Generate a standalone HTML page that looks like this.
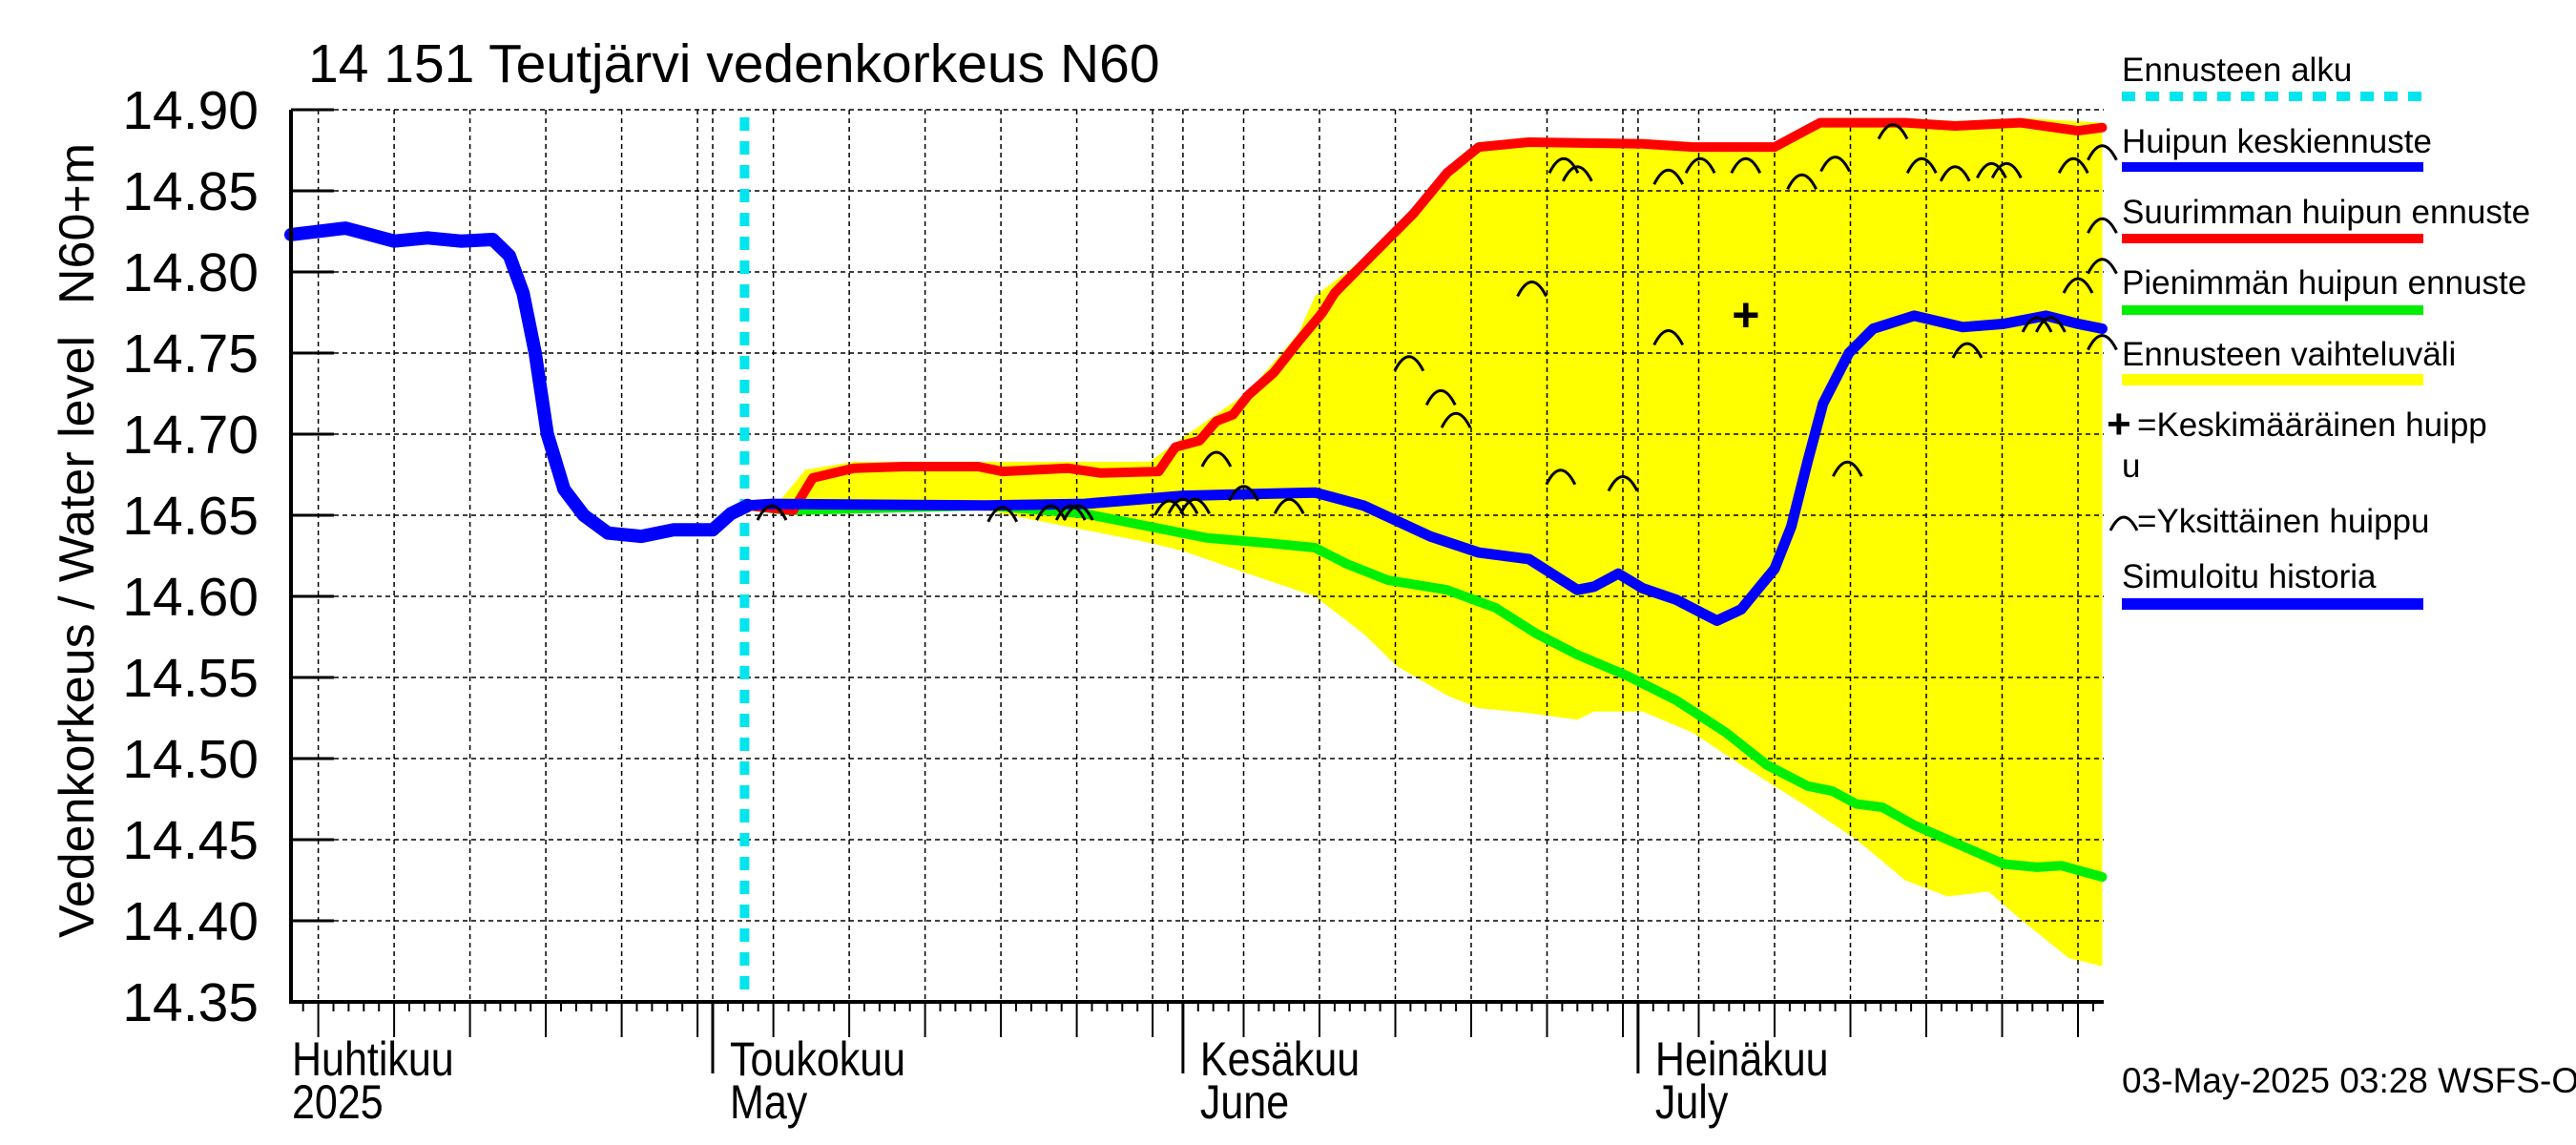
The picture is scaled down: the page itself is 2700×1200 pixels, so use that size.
<!DOCTYPE html>
<html><head><meta charset="utf-8">
<style>
body{margin:0;background:#fff}
svg{display:block;font-family:"Liberation Sans",sans-serif}
</style></head>
<body>
<svg id="chart" width="2700" height="1200" viewBox="0 0 2700 1200" xmlns="http://www.w3.org/2000/svg">
<rect width="2700" height="1200" fill="#fff"/>
<g id="band"></g>
<g id="grid"></g>
<g id="series"></g>
<g id="axes"></g>
<text x="323" y="86" font-size="57">14 151 Teutjärvi vedenkorkeus N60</text>
<text transform="translate(98,983) rotate(-90)" font-size="52">Vedenkorkeus / Water level</text>
<text transform="translate(98,319) rotate(-90)" font-size="52">N60+m</text>
<text x="2224" y="1145" font-size="37">03-May-2025 03:28 WSFS-O</text>
<g id="legend" font-size="35">
<g><text x="2224" y="85">Ennusteen alku</text><line x1="2224" y1="101" x2="2540" y2="101" stroke="#00e5ee" stroke-width="10" stroke-dasharray="14,11"/></g>
<g><text x="2224" y="160">Huipun keskiennuste</text><line x1="2224" y1="175" x2="2540" y2="175" stroke="#0000ff" stroke-width="10"/></g>
<g><text x="2224" y="234">Suurimman huipun ennuste</text><line x1="2224" y1="250" x2="2540" y2="250" stroke="#ff0000" stroke-width="10"/></g>
<g><text x="2224" y="308">Pienimmän huipun ennuste</text><line x1="2224" y1="325" x2="2540" y2="325" stroke="#00ee00" stroke-width="10"/></g>
<g><text x="2224" y="383">Ennusteen vaihteluväli</text><line x1="2224" y1="398" x2="2540" y2="398" stroke="#ffff00" stroke-width="12"/></g>
<g><text x="2208" y="459" font-weight="bold" font-size="44">+</text><text x="2240" y="457">=Keskimääräinen huipp</text><text x="2224" y="500">u</text></g>
<g><path d="M2212,556 Q2226,528 2240,556" fill="none" stroke="#000" stroke-width="3"/><text x="2240" y="558">=Yksittäinen huippu</text></g>
<g><text x="2224" y="616">Simuloitu historia</text><line x1="2224" y1="633" x2="2540" y2="633" stroke="#0000ff" stroke-width="12"/></g>
</g>
</svg>
<script>
// days are relative to 2025-05-01
const histDays=[-27.8,-24.2,-21,-18.8,-16.6,-14.5,-13.4,-12.5,-11.7,-10.9,-9.8,-8.5,-6.9,-4.7,-2.6,0,1.2,2.3];
const histVals=[14.823,14.827,14.819,14.821,14.819,14.820,14.81,14.787,14.75,14.70,14.666,14.65,14.639,14.637,14.641,14.641,14.651,14.656];
const meanDays=[2.3,3.9,18.0,24.5,31.0,35.3,39.7,42.9,47.3,50.5,53.8,57.0,58.1,59.7,61.3,63.5,66.2,67.8,70.0,71.1,72.2,73.2,74.9,76.5,79.2,82.4,85.1,87.9,90.0,91.6];
const meanVals=[14.656,14.657,14.656,14.657,14.662,14.663,14.664,14.656,14.637,14.627,14.623,14.604,14.606,14.614,14.605,14.598,14.585,14.592,14.617,14.643,14.684,14.719,14.75,14.765,14.773,14.766,14.768,14.773,14.768,14.765];
const maxDays=[2.3,5.3,6.6,9.3,12.6,17.5,19.1,23.4,25.6,29.4,30.5,32.1,33.2,34.3,35.3,37.0,38.6,40.2,41.0,42.9,46.2,48.4,50.5,53.8,61.3,64.6,70.0,73.0,78.6,81.9,86.2,90.0,91.6];
const maxVals=[14.656,14.653,14.673,14.679,14.68,14.68,14.677,14.679,14.676,14.677,14.692,14.696,14.708,14.712,14.724,14.738,14.757,14.775,14.787,14.805,14.836,14.861,14.877,14.88,14.879,14.877,14.877,14.892,14.892,14.89,14.892,14.887,14.889];
const minDays=[2.3,5.0,18.0,24.5,28.8,32.6,36.4,39.7,41.8,44.5,48.4,51.6,54.3,57.0,60.3,63.5,66.8,69.5,72.2,73.8,75.4,77.1,79.2,82.4,85.1,87.3,88.9,91.6];
const minVals=[14.656,14.653,14.656,14.651,14.643,14.636,14.633,14.63,14.62,14.61,14.604,14.593,14.577,14.564,14.551,14.536,14.516,14.496,14.483,14.48,14.472,14.47,14.459,14.446,14.435,14.433,14.434,14.427];
const bandUpDays=[3.9,6.1,9.3,16.9,28.8,31.0,35.3,38.6,39.7,42.9,46.2,48.4,50.5,53.8,61.3,64.6,70.0,73.0,78.6,81.9,86.2,91.6];
const bandUpVals=[14.653,14.678,14.683,14.683,14.683,14.698,14.726,14.762,14.785,14.808,14.839,14.864,14.88,14.883,14.882,14.88,14.88,14.895,14.895,14.893,14.895,14.892];
const bandLoDays=[3.9,18.0,23.4,28.8,31.0,35.3,39.7,42.9,45.1,48.4,50.5,53.8,57.0,58.1,61.3,64.6,67.8,72.2,75.4,78.6,81.4,84.1,86.2,89.4,91.6];
const bandLoVals=[14.653,14.653,14.643,14.633,14.628,14.614,14.6,14.577,14.557,14.539,14.531,14.528,14.524,14.529,14.529,14.516,14.496,14.47,14.45,14.425,14.415,14.418,14.401,14.377,14.372];
const peakDays=[3.9,19.1,22.3,23.6,24.1,30.1,31.0,31.8,33.2,35.0,38.0,45.9,48.0,49.0,54.0,56.1,57.0,55.9,60.0,63.0,63.0,65.1,68.1,71.8,74.0,74.8,77.8,79.7,81.9,82.7,84.3,85.3,87.3,88.2,89.7,90.0,91.6,91.6,91.6,91.6];
const peakVals=[14.657,14.656,14.657,14.657,14.657,14.660,14.661,14.661,14.690,14.669,14.661,14.749,14.728,14.714,14.795,14.871,14.866,14.679,14.675,14.864,14.765,14.871,14.871,14.861,14.872,14.684,14.892,14.871,14.866,14.757,14.868,14.868,14.773,14.773,14.871,14.797,14.879,14.834,14.809,14.762];
const meanPeakDay=68.1, meanPeakVal=14.773;
const yTicks=[14.35,14.40,14.45,14.50,14.55,14.60,14.65,14.70,14.75,14.80,14.85,14.90];
const monthLabels=[["Huhtikuu","2025",-27.8],["Toukokuu","May",0],["Kesäkuu","June",31],["Heinäkuu","July",61]];
const forecastStart=2.1;

const NS="http://www.w3.org/2000/svg";
const X0=305,X1=2205,YT=115,YB=1050;
const xs=d=>747+d*15.9;
const ys=v=>YT+(14.90-v)/0.05*85;
function el(tag,attrs,parent){const e=document.createElementNS(NS,tag);for(const k in attrs)e.setAttribute(k,attrs[k]);parent.appendChild(e);return e;}
const grid=document.getElementById('grid'),axes=document.getElementById('axes'),series=document.getElementById('series'),band=document.getElementById('band');

let pts=bandUpDays.map((d,i)=>xs(d)+','+ys(bandUpVals[i]));
for(let i=bandLoDays.length-1;i>=0;i--)pts.push(xs(bandLoDays[i])+','+ys(bandLoVals[i]));
const bp=el('polygon',{points:pts.join(' '),fill:'#ffff00'},band);



yTicks.forEach(v=>{
  const y=ys(v);
  const g=el('line',{x1:X0,x2:X1,y1:y,y2:y,stroke:'#000','stroke-width':1.5,'stroke-dasharray':'5,4'},grid);
  
  
  const t=el('line',{x1:X0,x2:X0+45,y1:y,y2:y,stroke:'#000','stroke-width':3},axes);
  
  
  const l=el('text',{x:271,y:y+20,'font-size':57,'text-anchor':'end'},axes);
  l.textContent=v.toFixed(2);
  
  
});
const base=Date.UTC(2025,4,1);
for(let d=-27;d<=91;d++){
  const dt=new Date(base+d*86400000);const dom=dt.getUTCDate();
  const x=xs(d); if(x<X0||x>X1+1)continue;
  let len=10;
  if(dom===1){len=75;}
  else if(dom%5===0){len=37;}
  if(dom%5===0||dom===1){
    const g=el('line',{x1:x,x2:x,y1:YT,y2:YB,stroke:'#000','stroke-width':1.5,'stroke-dasharray':'5,4'},grid);
    
    
  }
  const t=el('line',{x1:x,x2:x,y1:YB,y2:YB+len,stroke:'#000','stroke-width':dom===1?3:2},axes);
  
  
}
monthLabels.forEach(m=>{
  const x=Math.max(xs(m[2]),X0)+ (m[2]<-20?1:18);
  const a=el('text',{x:0,y:0,'font-size':50,transform:`translate(${x},1127) scale(0.86,1)`},axes);a.textContent=m[0];
  
  
  const b=el('text',{x:0,y:0,'font-size':50,transform:`translate(${x},1172) scale(0.86,1)`},axes);b.textContent=m[1];
  
  
});
const la=el('line',{x1:X0,x2:X0,y1:YT,y2:YB+2,stroke:'#000','stroke-width':4},axes);


const ba=el('line',{x1:X0,x2:X1,y1:YB,y2:YB,stroke:'#000','stroke-width':4},axes);



function line(days,vals,color,w,name){
  const p=el('polyline',{points:days.map((d,i)=>xs(d)+','+ys(vals[i])).join(' '),fill:'none',stroke:color,'stroke-width':w,'stroke-linejoin':'round','stroke-linecap':'round'},series);
  
  
}
const fs=el('line',{x1:xs(forecastStart),x2:xs(forecastStart),y1:YT+8,y2:YB,stroke:'#00e5ee','stroke-width':10,'stroke-dasharray':'14,11'},series);


line(histDays,histVals,'#0000ff',14,'simulated-history-line');
line(minDays,minVals,'#00ee00',10,'min-peak-forecast-line');
line(maxDays,maxVals,'#ff0000',10,'max-peak-forecast-line');
line(meanDays,meanVals,'#0000ff',11,'mean-peak-forecast-line');
peakDays.forEach((d,i)=>{
  const x=xs(d),y=ys(peakVals[i]);
  const p=el('path',{d:`M${x-15},${y+17} Q${x},${y-13} ${x+15},${y+17}`,fill:'none',stroke:'#000','stroke-width':3},series);
  
  
});
const mp=el('text',{x:xs(meanPeakDay),y:ys(meanPeakVal)+16,'font-size':50,'font-weight':'bold','text-anchor':'middle'},series);
mp.textContent='+';


</script>
</body></html>
